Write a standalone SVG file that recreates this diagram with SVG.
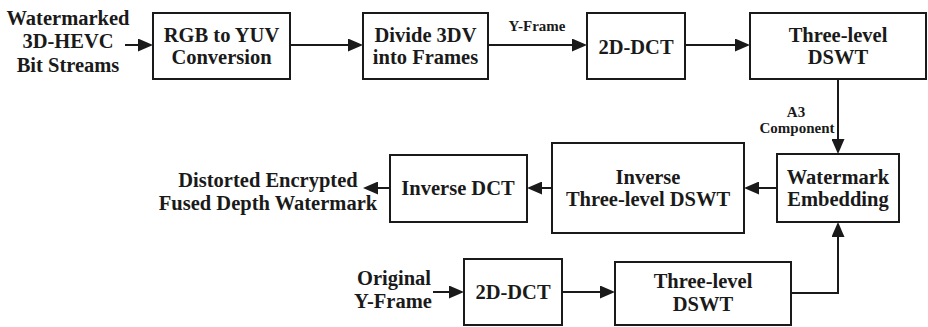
<svg xmlns="http://www.w3.org/2000/svg" width="928" height="327" viewBox="0 0 928 327">
<style>
.box{fill:#fff;stroke:#1a1a1a;stroke-width:2}
text{font-family:'Liberation Serif','DejaVu Serif',serif;font-weight:bold;font-size:20.5px;fill:#1a1a1a;text-anchor:middle}
text.s{font-size:15px}
.c{fill:none;stroke:#1a1a1a;stroke-width:2;marker-end:url(#ah)}
</style>
<defs>
<marker id="ah" markerUnits="userSpaceOnUse" markerWidth="15" markerHeight="13" refX="12" refY="6.5" orient="auto">
<path d="M0,0 L15,6.5 L0,13 z" fill="#1a1a1a"/>
</marker>
</defs>
<rect width="928" height="327" fill="#fff"/>
<g id="connectors">
<line class="c" x1="125" y1="45" x2="150" y2="45"/>
<line class="c" x1="290" y1="45" x2="360" y2="45"/>
<line class="c" x1="488" y1="45" x2="584" y2="45"/>
<line class="c" x1="685" y1="45" x2="747" y2="45"/>
<line class="c" x1="838" y1="79" x2="838" y2="151"/>
<line class="c" x1="777" y1="188" x2="747" y2="188"/>
<line class="c" x1="552" y1="188" x2="530" y2="188"/>
<line class="c" x1="390" y1="188" x2="366" y2="188"/>
<line class="c" x1="433" y1="292" x2="461" y2="292"/>
<line class="c" x1="562" y1="292" x2="612" y2="292"/>
<polyline class="c" points="791,293 838,293 838,225"/>
<text class="s" x="537" y="31">Y-Frame</text>
<text class="s" x="796" y="117">A3</text>
<text class="s" x="797" y="133">Component</text>
</g>
<g id="input">
<text x="68" y="25">Watermarked</text>
<text x="68" y="48">3D-HEVC</text>
<text x="68" y="72">Bit Streams</text>
</g>
<g id="rgb2yuv">
<rect class="box" x="153" y="13" width="137" height="66"/>
<text x="221.5" y="42">RGB to YUV</text>
<text x="221.5" y="64">Conversion</text>
</g>
<g id="divide">
<rect class="box" x="363" y="13" width="125" height="66"/>
<text x="425.5" y="42">Divide 3DV</text>
<text x="425.5" y="64">into Frames</text>
</g>
<g id="dct1">
<rect class="box" x="587" y="13" width="98" height="66"/>
<text x="636" y="54">2D-DCT</text>
</g>
<g id="dswt1">
<rect class="box" x="750" y="13" width="176" height="66"/>
<text x="838" y="42">Three-level</text>
<text x="838" y="64">DSWT</text>
</g>
<g id="embed">
<rect class="box" x="777" y="154" width="122" height="68"/>
<text x="838" y="184">Watermark</text>
<text x="838" y="206">Embedding</text>
</g>
<g id="idswt">
<rect class="box" x="552" y="143" width="192" height="90"/>
<text x="648" y="184">Inverse</text>
<text x="648" y="206">Three-level DSWT</text>
</g>
<g id="idct">
<rect class="box" x="390" y="155" width="137" height="67"/>
<text x="458" y="195">Inverse DCT</text>
</g>
<g id="output">
<text x="268" y="187">Distorted Encrypted</text>
<text x="268" y="210">Fused Depth Watermark</text>
</g>
<g id="original">
<text x="394" y="285">Original</text>
<text x="393" y="308">Y-Frame</text>
</g>
<g id="dct2">
<rect class="box" x="464" y="259" width="98" height="66"/>
<text x="513" y="299">2D-DCT</text>
</g>
<g id="dswt2">
<rect class="box" x="615" y="262" width="176" height="63"/>
<text x="703" y="288">Three-level</text>
<text x="703" y="311">DSWT</text>
</g>
</svg>
